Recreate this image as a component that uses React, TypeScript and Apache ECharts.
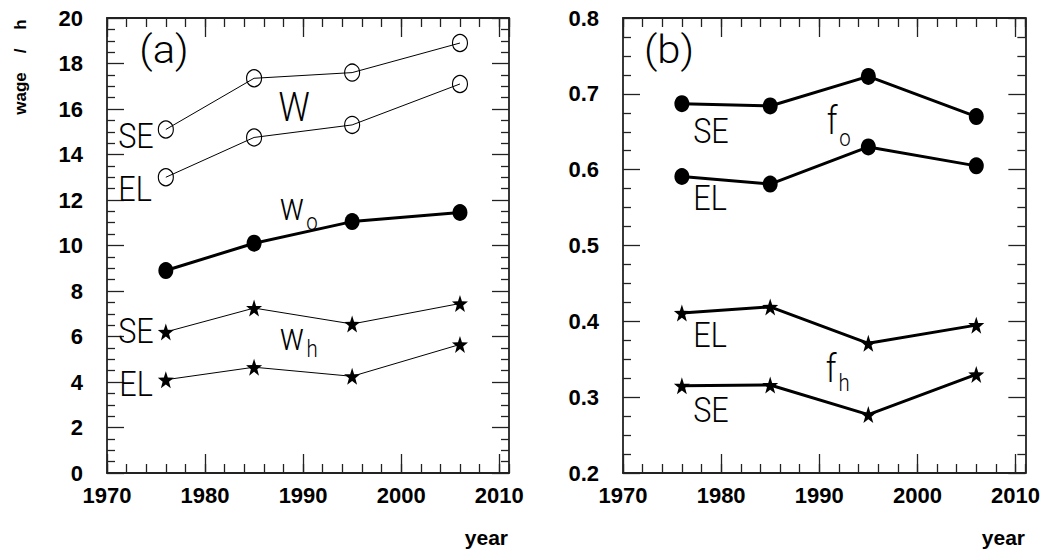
import React, { useEffect, useRef } from "react";
import * as echarts from "echarts";

// ---- data ----
const years = [1976, 1985, 1995, 2006];
// panel (a): wages per hour
const W_SE = [15.1, 17.35, 17.6, 18.9];
const W_EL = [13.0, 14.75, 15.3, 17.1];
const w_o = [8.9, 10.1, 11.05, 11.45];
const wh_SE = [6.2, 7.25, 6.55, 7.45];
const wh_EL = [4.1, 4.65, 4.25, 5.65];
// panel (b): fractions
const fo_SE = [0.687, 0.684, 0.723, 0.67];
const fo_EL = [0.591, 0.581, 0.63, 0.605];
const fh_EL = [0.411, 0.419, 0.371, 0.395];
const fh_SE = [0.315, 0.316, 0.277, 0.33];

const STAR =
  "path://M50,0 L61.76,33.82 L97.55,34.55 L69.02,56.18 L79.39,90.45 L50,70 L20.61,90.45 L30.98,56.18 L2.45,34.55 L38.24,33.82 Z";

const AX = "#222";
const TICK_FONT = '"Liberation Sans", Arial, Helvetica, sans-serif';
const LBL_FONT = 'Roboto, "DejaVu Sans", sans-serif';

function zip(ys: number[]) {
  return years.map((y, i) => [y, ys[i]]);
}

const tickLabel = {
  show: true,
  color: "#000",
  fontSize: 22,
  fontWeight: "bold",
  fontFamily: TICK_FONT,
  rich: {
    b: {
      color: "#000",
      fontSize: 22,
      fontWeight: "bold",
      fontFamily: TICK_FONT,
    },
  },
};

function xAxes(g: number) {
  const base = {
    gridIndex: g,
    type: "value",
    min: 1970,
    max: 2011,
    splitLine: { show: false },
  };
  return [
    {
      ...base,
      position: "bottom",
      interval: 10,
      axisLine: { show: true, onZero: false, lineStyle: { color: AX, width: 1.8 } },
      axisTick: { show: true, inside: true, length: 19, lineStyle: { color: AX, width: 1.3 } },
      axisLabel: {
        ...tickLabel,
        showMaxLabel: false,
        margin: 11,
        formatter: (v: number) => "{b|" + String(Math.round(v)) + "}",
      },
    },
    {
      ...base,
      position: "bottom",
      interval: 2,
      axisLine: { show: false, onZero: false },
      axisTick: { show: true, inside: true, length: 9, lineStyle: { color: AX, width: 1.3 } },
      axisLabel: { show: false },
    },
    {
      ...base,
      position: "top",
      interval: 10,
      axisLine: { show: true, onZero: false, lineStyle: { color: AX, width: 1.8 } },
      axisTick: { show: true, inside: true, length: 19, lineStyle: { color: AX, width: 1.3 } },
      axisLabel: { show: false },
    },
    {
      ...base,
      position: "top",
      interval: 2,
      axisLine: { show: false, onZero: false },
      axisTick: { show: true, inside: true, length: 9, lineStyle: { color: AX, width: 1.3 } },
      axisLabel: { show: false },
    },
  ];
}

function yAxes(g: number, min: number, max: number, interval: number, fmt: (v: number) => string) {
  const base = {
    gridIndex: g,
    type: "value",
    min,
    max,
    interval,
    splitLine: { show: false },
    axisLine: { show: true, onZero: false, lineStyle: { color: AX, width: 1.8 } },
    axisTick: { show: true, inside: true, length: 17, lineStyle: { color: AX, width: 1.3 } },
    minorTick: { show: true, splitNumber: 4, length: 8, lineStyle: { color: AX, width: 1.3 } },
  };
  return [
    {
      ...base,
      position: "left",
      axisLabel: { ...tickLabel, margin: 24, formatter: (v: number) => "{b|" + fmt(v) + "}" },
    },
    { ...base, position: "right", axisLabel: { show: false } },
  ];
}

function line(
  name: string,
  g: number,
  ys: number[],
  symbol: string,
  width: number,
  open: boolean,
  size: number[]
) {
  return {
    name,
    type: "line",
    xAxisIndex: g * 4,
    yAxisIndex: g * 2,
    data: zip(ys),
    symbol,
    symbolSize: size,
    symbolKeepAspect: false,
    showSymbol: true,
    lineStyle: { color: "#000", width },
    itemStyle: open
      ? { color: "rgba(255,255,255,0)", borderColor: "#000", borderWidth: 1.2 }
      : { color: "#000", borderWidth: 0 },
    z: 3,
  };
}

function lbl(x: number, y: number, text: string, size: number, scaleX = 0.85) {
  return {
    type: "text",
    x,
    y,
    scaleX,
    z: 10,
    style: {
      text,
      fontSize: size,
      fontFamily: LBL_FONT,
      fontWeight: 300,
      fill: "#000",
      align: "center",
      verticalAlign: "middle",
    },
  };
}

function boldText(x: number, y: number, text: string, size: number, align: string, rotation = 0) {
  return {
    type: "text",
    x,
    y,
    rotation,
    z: 10,
    style: {
      text,
      fontSize: size,
      fontFamily: TICK_FONT,
      fontWeight: "bold",
      fill: "#000",
      align,
      verticalAlign: "middle",
    },
  };
}

const NB = "\u00a0\u00a0\u00a0\u00a0";

export default function App() {
  const ref = useRef<HTMLDivElement>(null);
  useEffect(() => {
    if (!ref.current) return;
    const chart = echarts.init(ref.current, undefined, { renderer: "svg" });
    const circ = [15, 17];
    const star = [16, 17];
    chart.setOption({
      animation: false,
      backgroundColor: "#fff",
      grid: [
        { left: 107, top: 18, width: 402, height: 455 },
        { left: 623, top: 18, width: 403, height: 455 },
      ],
      xAxis: [...xAxes(0), ...xAxes(1)],
      yAxis: [
        ...yAxes(0, 0, 20, 2, (v: number) => String(Math.round(v))),
        ...yAxes(1, 0.2, 0.8, 0.1, (v: number) => v.toFixed(1)),
      ],
      series: [
        line("W SE", 0, W_SE, "circle", 1, true, circ),
        line("W EL", 0, W_EL, "circle", 1, true, circ),
        line("w_o", 0, w_o, "circle", 3, false, circ),
        line("w_h SE", 0, wh_SE, STAR, 1, false, star),
        line("w_h EL", 0, wh_EL, STAR, 1, false, star),
        line("f_o SE", 1, fo_SE, "circle", 3, false, circ),
        line("f_o EL", 1, fo_EL, "circle", 3, false, circ),
        line("f_h EL", 1, fh_EL, STAR, 3, false, star),
        line("f_h SE", 1, fh_SE, STAR, 3, false, star),
      ],
      graphic: [
        // panel (a)
        lbl(164, 50, "(a)", 38, 1.1),
        lbl(136, 136, "SE", 36),
        lbl(135, 189, "EL", 36),
        lbl(294, 107, "W", 41),
        lbl(292, 207, "w", 38),
        lbl(312, 221, "o", 24),
        lbl(136, 331, "SE", 36),
        lbl(136, 384, "EL", 36),
        lbl(292, 337, "w", 38),
        lbl(312, 348, "h", 24),
        // panel (b)
        lbl(669, 50, "(b)", 38, 1.1),
        lbl(711, 131, "SE", 36),
        lbl(710, 198, "EL", 36),
        lbl(832, 121, "f", 38),
        lbl(845, 137, "o", 24),
        lbl(710, 335, "EL", 36),
        lbl(711, 410, "SE", 36),
        lbl(831, 369, "f", 38),
        lbl(844, 382, "h", 24),
        // axis titles
        boldText(20, 67, "wage" + NB + "/" + NB + "h", 17, "center", Math.PI / 2),
        boldText(508, 537, "year", 21, "right"),
        boldText(1025, 537, "year", 21, "right"),
      ],
    });
    return () => chart.dispose();
  }, []);
  return (
    <div
      ref={ref}
      style={{ position: "absolute", left: 0, top: 0, width: 1043, height: 549, background: "#fff" }}
    />
  );
}
